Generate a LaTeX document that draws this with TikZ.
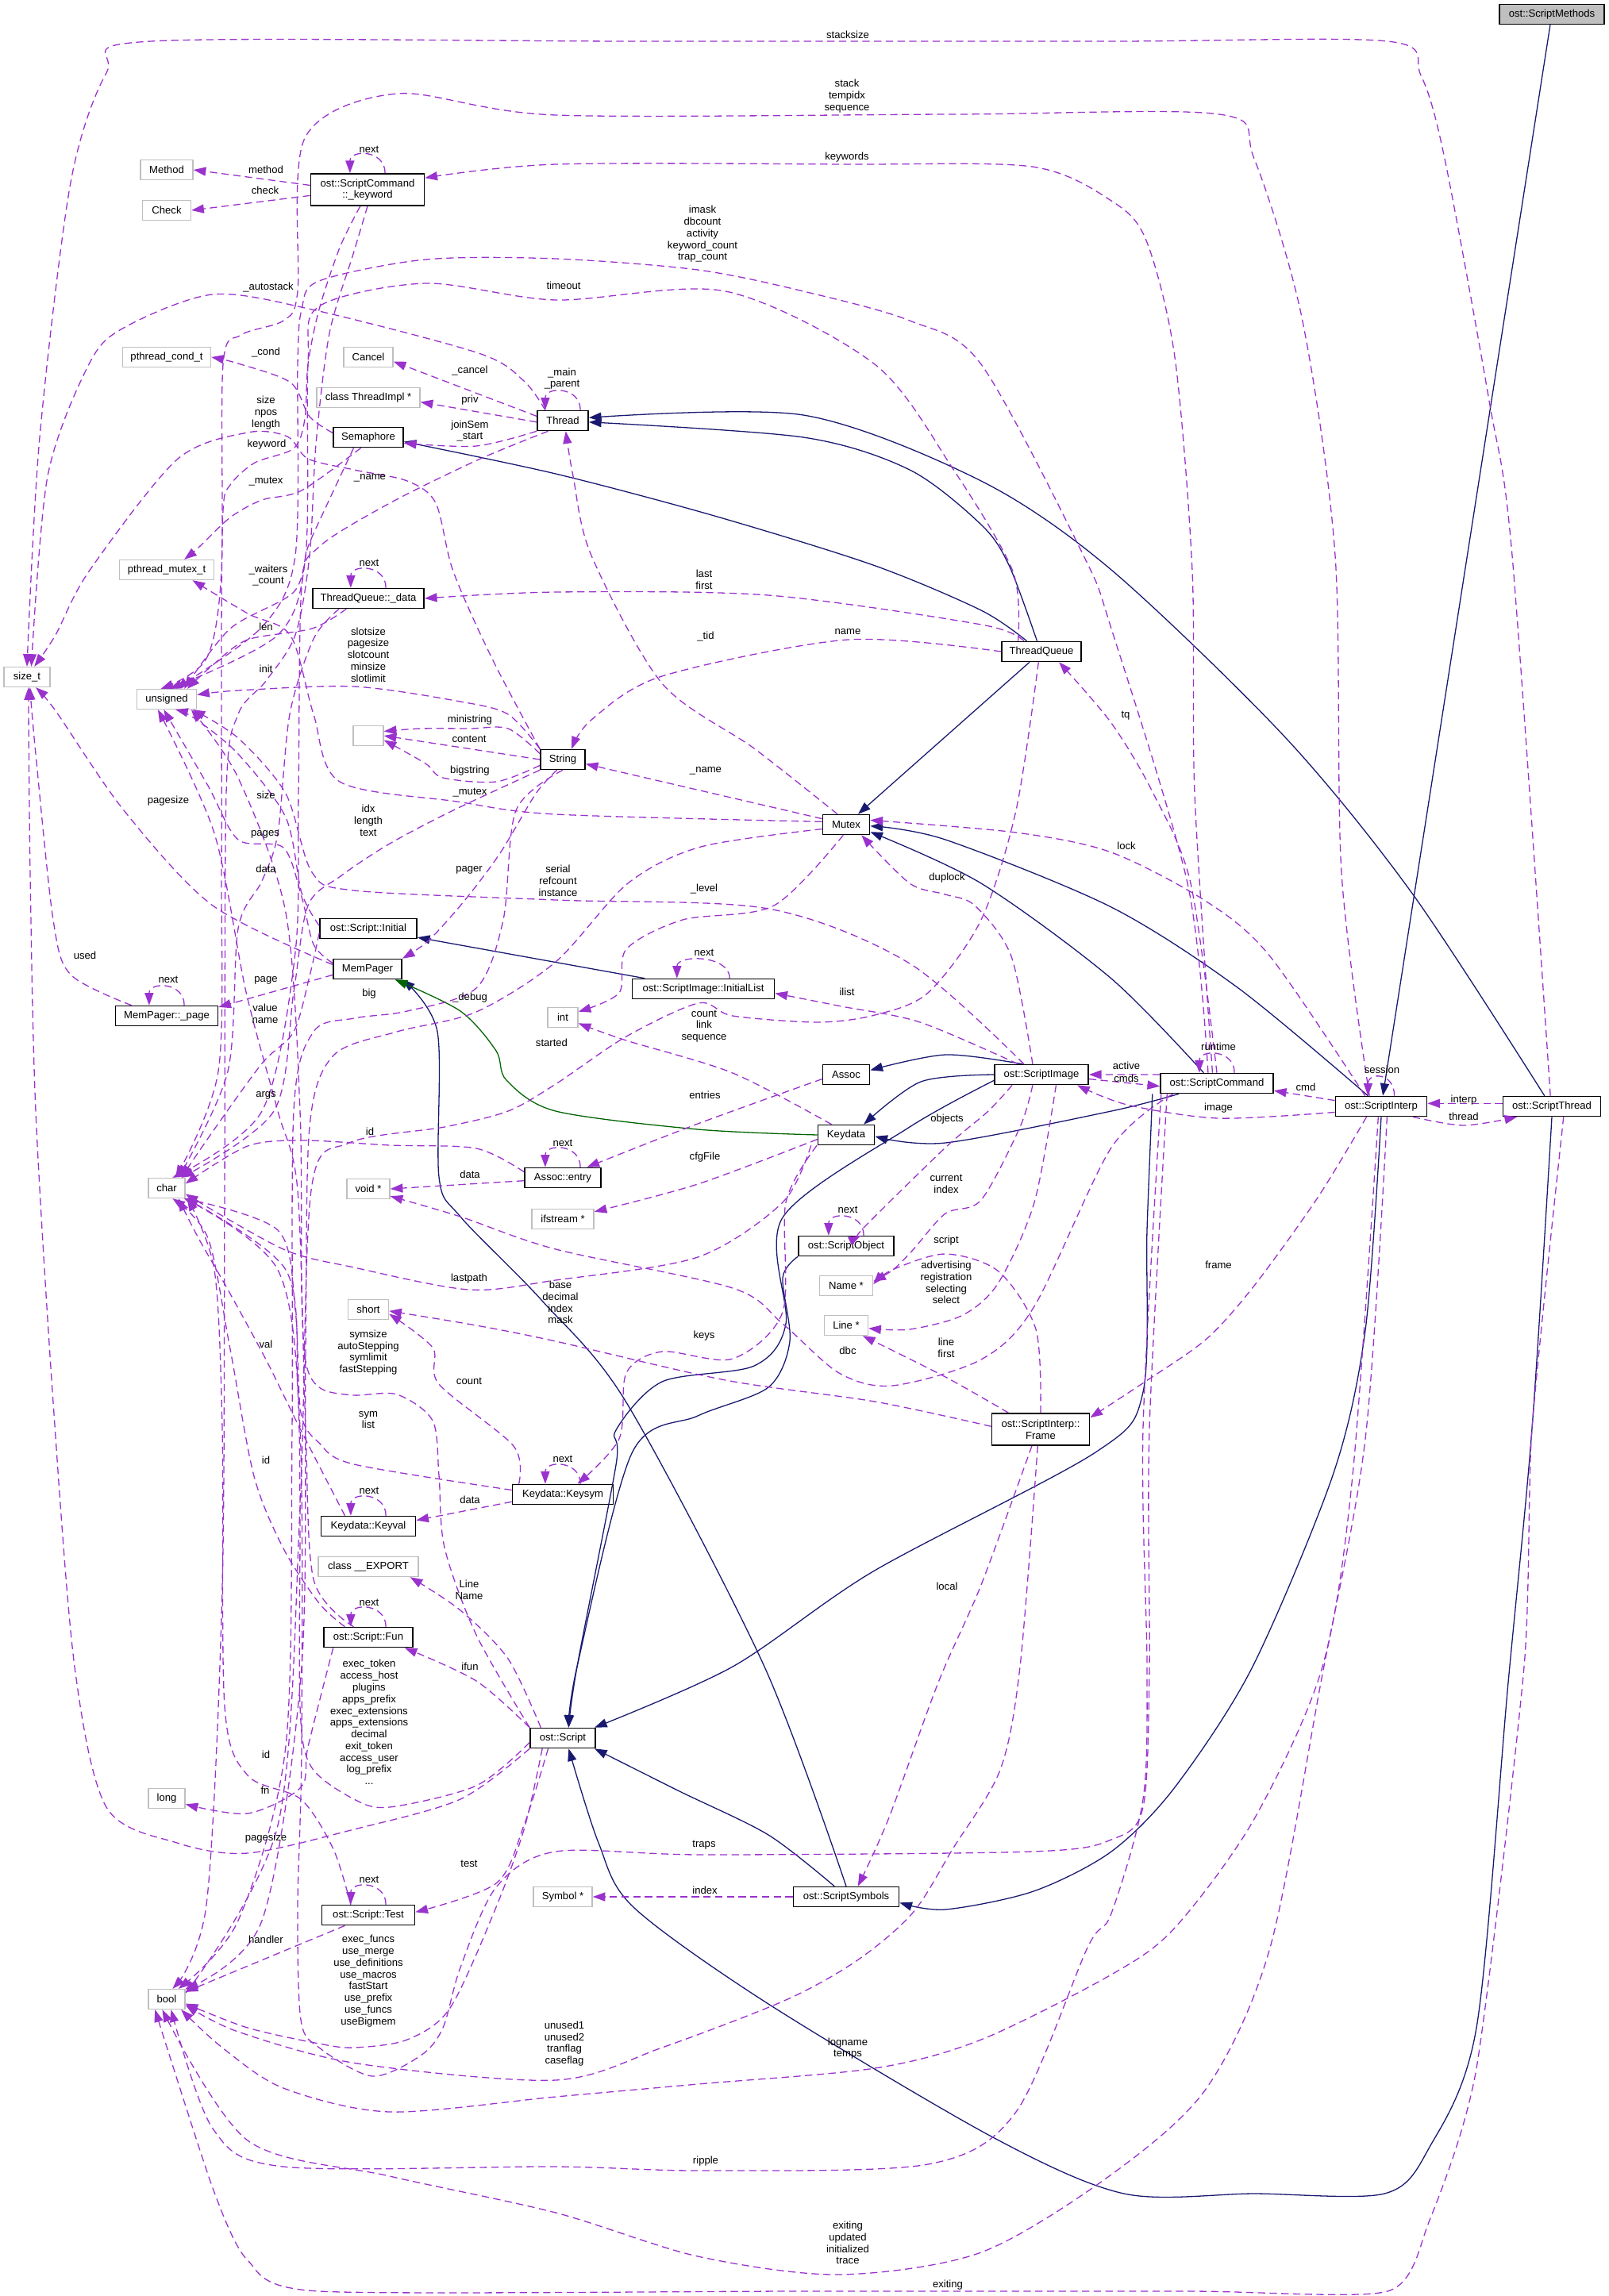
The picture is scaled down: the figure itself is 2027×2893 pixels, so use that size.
\documentclass[tikz,border=0pt]{standalone}
\usepackage{fontspec}
\setmainfont{Liberation Sans}
\usetikzlibrary{arrows.meta}
\definecolor{usecol}{HTML}{9A32CD}
\definecolor{inhcol}{HTML}{191970}
\definecolor{protcol}{HTML}{006400}
\definecolor{boxgray}{HTML}{BFBFBF}
\newcommand\dxfont{\fontsize{7.1}{8}\selectfont}
\newcommand\selfloop[2][12pt]{\draw[uses] ([xshift=#1]#2.north) .. controls +(0,-30) and +(0,-30) .. ([xshift=-#1]#2.north);}
\begin{document}
\begin{tikzpicture}[x=0.542pt,y=-0.542pt,
  cls/.style={draw=black,line width=0.9pt,fill=white,font=\dxfont,inner xsep=2pt,inner ysep=0pt,minimum height=13.5pt,align=center},
  ext/.style={cls,draw=boxgray,line width=0.75pt},
  rootbox/.style={cls,fill=boxgray},
  bw/.style={minimum width=#1*0.542pt},
  uses/.style={draw=usecol,line width=0.7pt,dash pattern=on 5pt off 3pt,-{Triangle[length=8.5pt,width=6pt]}},
  inh/.style={draw=inhcol,line width=0.7pt,-{Triangle[length=8.5pt,width=6pt]}},
  prot/.style={inh,draw=protcol},
  lbl/.style={font=\dxfont,align=center,inner sep=0pt}]
\useasboundingbox (0,0) rectangle (2027,2893);
\node[rootbox,bw=132] (meth) at (1955,18) {ost::ScriptMethods};
\node[ext,bw=66] (Method) at (210,214) {Method};
\node[ext,bw=61] (Check) at (210,265) {Check};
\node[cls,bw=143,minimum height=21.7pt] (kw) at (463,239) {ost::ScriptCommand\\::\_keyword};
\node[ext,bw=111] (pcond) at (210,450) {pthread\_cond\_t};
\node[ext,bw=62] (Cancel) at (464,450) {Cancel};
\node[ext,bw=130] (timpl) at (464,501) {class ThreadImpl *};
\node[cls,bw=88] (Semaphore) at (464,551) {Semaphore};
\node[cls,bw=64] (Thread) at (709,530) {Thread};
\node[ext,bw=119] (pmutex) at (210,718) {pthread\_mutex\_t};
\node[cls,bw=140] (tqdata) at (464,754) {ThreadQueue::\_data};
\node[ext,bw=58] (sizet) at (34,853) {size\_t};
\node[ext,bw=75] (uns) at (210,881) {unsigned};
\node[ext,bw=38] (blank) at (464,927) {};
\node[cls,bw=56] (String) at (709,957) {String};
\node[cls,bw=100] (ThreadQueue) at (1312,821) {ThreadQueue};
\node[cls,bw=59] (Mutex) at (1066,1039) {Mutex};
\node[cls,bw=122] (sinit) at (464,1170) {ost::Script::Initial};
\node[cls,bw=86] (MemPager) at (463,1221) {MemPager};
\node[cls,bw=129] (page) at (210,1280) {MemPager::\_page};
\node[ext,bw=38] (int) at (709,1282) {int};
\node[cls,bw=179] (ilist) at (886,1246) {ost::ScriptImage::InitialList};
\node[cls,bw=59] (Assoc) at (1066,1354) {Assoc};
\node[cls,bw=118] (simg) at (1312,1354) {ost::ScriptImage};
\node[cls,bw=142] (scmd) at (1533,1365) {ost::ScriptCommand};
\node[cls,bw=115] (sint) at (1740,1394) {ost::ScriptInterp};
\node[cls,bw=123] (sthr) at (1955,1394) {ost::ScriptThread};
\node[ext,bw=46] (char) at (210,1497) {char};
\node[cls,bw=96] (entry) at (709,1484) {Assoc::entry};
\node[ext,bw=54] (voidp) at (464,1498) {void *};
\node[cls,bw=71] (Keydata) at (1066,1430) {Keydata};
\node[ext,bw=78] (ifs) at (709,1536) {ifstream *};
\node[cls,bw=120] (sobj) at (1066,1570) {ost::ScriptObject};
\node[ext,bw=67] (namep) at (1066,1620) {Name *};
\node[ext,bw=51] (short) at (464,1650) {short};
\node[ext,bw=55] (linep) at (1066,1670) {Line *};
\node[cls,bw=123,minimum height=21.7pt] (frame) at (1311,1801) {ost::ScriptInterp::\\Frame};
\node[cls,bw=127] (keysym) at (709,1883) {Keydata::Keysym};
\node[cls,bw=119] (keyval) at (464,1923) {Keydata::Keyval};
\node[ext,bw=126] (export) at (464,1974) {class \_\_EXPORT};
\node[cls,bw=112] (fun) at (464,2063) {ost::Script::Fun};
\node[cls,bw=82] (script) at (709,2190) {ost::Script};
\node[ext,bw=46] (long) at (210,2266) {long};
\node[ext,bw=74] (symp) at (709,2390) {Symbol *};
\node[cls,bw=133] (ssym) at (1066,2390) {ost::ScriptSymbols};
\node[cls,bw=117] (test) at (464,2413) {ost::Script::Test};
\node[ext,bw=46] (bool) at (210,2519) {bool};
\draw[inh] (meth) -- (sint);
\draw[inh] plot[smooth] coordinates {([xshift=-9pt]sint.north) (1560,1245) (1400,1143) (1191,1058) ([yshift=-1pt]Mutex.east)};
\draw[inh] plot[smooth] coordinates {([xshift=-9pt]scmd.north) (1400,1233) (1236,1113) ([yshift=-5pt]Mutex.east)};
\draw[inh] plot[smooth] coordinates {([xshift=-5pt]sthr.north) (1780,1127) (1620,930) (1400,718) (1236,606) (1012,523) ([yshift=2pt]Thread.east)};
\draw[inh] plot[smooth] coordinates {([xshift=-3pt]ThreadQueue.north) (1271,712) (1236,661) (1146,592) (1012,551) ([yshift=-1pt]Thread.east)};
\draw[inh] plot[smooth] coordinates {([xshift=-10pt]ThreadQueue.north) (1236,769) (1100,712) (900,650) (700,597) ([yshift=-3pt]Semaphore.east)};
\draw[inh] (ThreadQueue) -- (Mutex);
\draw[inh] (ilist) -- (sinit);
\draw[inh] plot[smooth] coordinates {([xshift=-13pt]simg.north) (1191,1329) ([yshift=3pt]Assoc.east)};
\draw[inh] plot[smooth] coordinates {(simg.west) (1160,1363) ([xshift=12pt]Keydata.north)};
\draw[inh] plot[smooth] coordinates {([xshift=-26pt]scmd.south) (1400,1400) (1191,1440) ([yshift=-1pt]Keydata.east)};
\draw[inh] plot[smooth] coordinates {([yshift=-4pt]simg.west) (1146,1420) (986,1534) (990,1668) (950,1721) (834,1741) (776,1802) (776,1846) (727,2100) ([xshift=4pt]script.north)};
\draw[inh] plot[smooth] coordinates {(sobj.south west) (986,1610) (995,1690) (968,1748) (879,1784) (796,1831) (727,2100) ([xshift=4pt]script.north)};
\draw[inh] plot[smooth] coordinates {([xshift=-44pt]scmd.south) (1445,1550) (1440,1754) (1380,1830) (1100,1980) (923,2100) ([xshift=-1pt]script.north east)};
\draw[inh] plot[smooth] coordinates {([xshift=-8pt]ssym.north) (968,2312) (856,2257) ([xshift=-1pt]script.south east)};
\draw[inh] plot[smooth] coordinates {(sthr.south) (1930,1800) (1900,2120) (1860,2555) (1800,2707) (1744,2764) (1580,2764) (1416,2764) (1249,2692) (968,2525) (798,2403) (754,2322) ([xshift=4pt]script.south)};
\draw[inh] plot[smooth] coordinates {(sint.south) (1720,1676) (1680,1856) (1578,2100) (1480,2252) (1400,2333) (1302,2383) (1191,2406) ([yshift=-4pt]ssym.east)};
\draw[inh] plot[smooth] coordinates {(ssym.north) (963,2100) (789,1767) (683,1639) (580,1533) (553,1483) (551,1300) (MemPager.south east)};
\draw[prot] plot[smooth] coordinates {(Keydata.west) (879,1423) (700,1400) (638,1361) (625,1324) (580,1274) ([xshift=-5pt]MemPager.south east)};
\draw[uses] ([yshift=3pt]kw.west) -- (Method.east);
\draw[uses] ([yshift=-4pt]kw.west) -- (Check.east);
\selfloop{kw}
\draw[uses] plot[smooth] coordinates {([xshift=-1pt]sthr.north) (1905,700) (1876,505) (1820,200) (1790,95) (1748,52) (1400,52) (800,52) (190,52) (134,92) (89,230) (50,551) (sizet.north)};
\draw[uses] plot[smooth] coordinates {([xshift=-8pt]sint.north) (1690,1100) (1682,700) (1640,400) (1580,200) (1536,144) (1200,144) (700,145) (500,118) (384,174) (375,367) (357,404) (304,422) (281,459) (279,720) (260,830) ([xshift=-4pt]uns.north)};
\draw[uses] plot[smooth] coordinates {([xshift=-3pt]scmd.north) (1505,1000) (1502,720) (1480,450) (1444,303) (1400,253) (1300,210) (1067,207) (700,207) ([yshift=8pt]kw.east)};
\draw[uses] plot[smooth] coordinates {([xshift=-6pt]scmd.north) (1496,1113) (1400,792) (1365,700) (1236,459) (1146,404) (1012,367) (879,340) (700,326) (536,327) (402,354) (380,390) (375,459) (372,700) (330,790) ([xshift=6pt]uns.north)};
\draw[uses] plot[smooth] coordinates {([xshift=-16pt]ThreadQueue.north) (1276,720) (1200,590) (1102,459) (914,367) (700,378) (536,357) (402,386) (388,459) (385,700) (350,800) ([xshift=2pt]uns.north)};
\draw[uses] plot[smooth] coordinates {([xshift=-12pt]Thread.north) (660,480) (603,445) (393,390) (268,371) (156,413) (112,459) (60,600) ([xshift=3pt]sizet.north)};
\selfloop{Thread}
\draw[uses] ([yshift=3pt]Thread.west) -- ([yshift=-3pt]Cancel.east);
\draw[uses] ([yshift=-1pt]Thread.west) -- ([yshift=-3pt]timpl.east);
\draw[uses] plot[smooth] coordinates {(Thread.south west) (600,562) ([yshift=-4pt]Semaphore.east)};
\draw[uses] plot[smooth] coordinates {([xshift=-10pt]Thread.south) (603,579) (491,634) (402,689) (380,740) (376,1000) (372,1200) (330,1400) ([xshift=4pt]char.north)};
\draw[uses] plot[smooth] coordinates {(String.north west) (620,830) (571,720) (549,634) (513,606) (446,592) (388,578) (362,550) (312,545) (223,579) (112,720) (70,800) ([xshift=5pt]sizet.north)};
\draw[uses] plot[smooth] coordinates {([xshift=-5pt]kw.south) (428,312) (402,390) (388,459) (384,528) (370,565) (321,583) (290,611) (281,643) (279,800) (279,1100) (275,1350) ([xshift=6pt]char.north)};
\draw[uses] plot[smooth] coordinates {([yshift=3pt]Semaphore.west) (390,525) (366,482) (300,458) (pcond.east)};
\draw[uses] plot[smooth] coordinates {([xshift=-5pt]Semaphore.south) (380,618) (330,630) (290,652) (250,690) ([xshift=12pt]pmutex.north)};
\draw[uses] plot[smooth] coordinates {([xshift=-10pt]Semaphore.south) (410,640) (388,689) (370,746) (290,792) ([xshift=12pt]uns.north)};
\selfloop{tqdata}
\draw[uses] plot[smooth] coordinates {([xshift=-12pt]ThreadQueue.north) (1236,787) (968,750) (700,746) (tqdata.east)};
\draw[uses] plot[smooth] coordinates {([xshift=-15pt]tqdata.south) (393,792) (312,806) (268,838) ([xshift=14pt]uns.north)};
\draw[uses] plot[smooth] coordinates {(kw.south) (445,320) (415,420) (398,560) (390,700) (372,800) (335,858) (300,900) (285,1000) (283,1500) (280,2000) (260,2400) ([xshift=4pt]bool.north)};
\draw[uses] plot[smooth] coordinates {(String.north west) (640,900) (580,884) (446,865) (300,870) ([yshift=3pt]uns.east)};
\draw[uses] plot[smooth] coordinates {([xshift=-6pt]Mutex.north) (950,943) (834,861) (745,700) (722,600) ([xshift=2pt]Thread.south)};
\draw[uses] plot[smooth] coordinates {(ThreadQueue.west) (1068,806) (834,852) (745,907) ([xshift=6pt]String.north)};
\draw[uses] plot[smooth] coordinates {([yshift=4pt]String.west) (640,918) (592,918) (530,918) ([yshift=3pt]blank.east)};
\draw[uses] (String.west) -- (blank.east);
\draw[uses] plot[smooth] coordinates {([yshift=-4pt]String.west) (625,985) (558,980) (536,962) ([yshift=-3pt]blank.east)};
\draw[uses] plot[smooth] coordinates {([yshift=2pt]Mutex.west) (700,1026) (576,1010) (428,985) (395,900) (366,801) (312,773) ([xshift=-15pt]pmutex.south east)};
\draw[uses] ([yshift=4pt]Mutex.west) -- ([yshift=-3pt]String.east);
\draw[uses] plot[smooth] coordinates {([yshift=3pt]MemPager.west) (268,1141) (156,1021) (71,897) ([xshift=6pt]sizet.south)};
\draw[uses] plot[smooth] coordinates {([yshift=2pt]sinit.west) (380,1125) (360,1030) (300,950) (245,905) ([xshift=6pt]uns.south)};
\draw[uses] plot[smooth] coordinates {(String.south west) (571,1021) (491,1063) (429,1104) (388,1141) (370,1250) (345,1400) ([xshift=10pt]char.north)};
\draw[uses] plot[smooth] coordinates {([yshift=4pt]MemPager.west) (395,1190) (380,1130) (357,1068) (300,1058) (262,990) ([xshift=-2pt]uns.south)};
\draw[uses] plot[smooth] coordinates {([xshift=-20pt]tqdata.south) (395,805) (365,900) (350,1050) (330,1110) (300,1170) (287,1350) ([xshift=8pt]char.north)};
\draw[uses] plot[smooth] coordinates {([xshift=-4pt]String.south) (675,1000) (630,1075) (585,1135) (540,1185) (MemPager.north east)};
\draw[uses] plot[smooth] coordinates {([xshift=-12pt]simg.north) (1146,1214) (968,1145) (700,1134) (446,1122) (393,1099) (360,1000) (300,930) ([xshift=-3pt]uns.south east)};
\draw[uses] plot[smooth] coordinates {(scmd.north) (1500,1113) (1452,998) (1400,911) ([xshift=12pt]ThreadQueue.south)};
\draw[uses] plot[smooth] coordinates {([xshift=-11pt]sint.north) (1600,1205) (1520,1136) (1400,1074) (1280,1049) ([yshift=3pt]Mutex.east)};
\draw[uses] plot[smooth] coordinates {([xshift=-6pt]simg.north) (1274,1205) (1228,1141) (1191,1127) (1146,1113) ([xshift=-6pt]Mutex.south east)};
\draw[uses] plot[smooth] coordinates {([xshift=-2pt]Mutex.south) (975,1141) (860,1159) (789,1196) (780,1251) ([yshift=4pt]int.east)};
\draw[uses] plot[smooth] coordinates {([yshift=-3pt]Mutex.west) (883,1067) (791,1113) (700,1212) (600,1275) (500,1300) (420,1330) (390,1420) (385,1700) (380,2100) (330,2420) (bool.north east)};
\draw[uses] plot[smooth] coordinates {([xshift=-24pt]page.north) (89,1228) (67,1159) (45,950) ([xshift=2pt]sizet.south)};
\selfloop{page}
\draw[uses] ([yshift=-4pt]MemPager.west) -- ([yshift=6pt]page.east);
\draw[uses] plot[smooth] coordinates {(String.south) (650,1021) (634,1159) (600,1245) (513,1274) (446,1283) (395,1300) (370,1400) (368,1800) (360,2200) (300,2420) ([xshift=8pt]bool.north)};
\draw[uses] plot[smooth] coordinates {([yshift=-3pt]sinit.west) (390,1230) (370,1300) (330,1340) (265,1430) ([xshift=10pt]char.north)};
\selfloop[18pt]{ilist}
\draw[uses] plot[smooth] coordinates {([xshift=-16pt]simg.north) (1159,1288) (1060,1268) ([yshift=-3pt]ilist.east)};
\draw[uses] plot[smooth] coordinates {([xshift=-10pt]Keydata.north) (923,1352) (789,1311) ([yshift=-4pt]int.east)};
\draw[uses] plot[smooth] coordinates {([xshift=-2pt]ThreadQueue.south) (1280,1021) (1236,1159) (1169,1251) (1102,1279) (1030,1288) (923,1280) (880,1264) (789,1306) (700,1366) (640,1400) (560,1420) (440,1440) (392,1500) (378,1900) (350,2300) ([yshift=4pt]bool.east)};
\selfloop{scmd}
\draw[uses] ([yshift=6pt]scmd.west) -- (simg.east);
\draw[uses] ([yshift=-3pt]simg.east) -- ([yshift=-2pt]scmd.west);
\draw[uses] ([yshift=4pt]sint.west) -- ([yshift=-5pt]scmd.east);
\draw[uses] plot[smooth] coordinates {([yshift=-4pt]sint.west) (1535,1409) (1420,1392) ([xshift=-8pt]simg.south east)};
\selfloop[9pt]{sint}
\draw[uses] ([yshift=2pt]sthr.west) -- ([yshift=2pt]sint.east);
\draw[uses] plot[smooth] coordinates {([xshift=-10pt]sint.south east) (1844,1418) ([xshift=10pt]sthr.south west)};
\draw[uses] plot[smooth] coordinates {([xshift=-10pt]fun.north) (395,1990) (385,1800) (375,1500) (350,1400) (310,1250) (270,1050) ([xshift=-6pt]uns.south)};
\draw[uses] plot[smooth] coordinates {([xshift=-16pt]fun.north) (402,2020) (357,1951) (320,1860) (290,1700) (262,1560) ([xshift=4pt]char.south)};
\draw[uses] plot[smooth] coordinates {([xshift=-24pt]fun.south) (388,2201) (379,2252) (312,2285) ([yshift=-4pt]long.east)};
\selfloop{fun}
\draw[uses] plot[smooth] coordinates {([xshift=-16pt]keyval.north) (379,1802) (335,1713) (286,1623) (250,1560) ([xshift=8pt]char.south)};
\selfloop{keyval}
\draw[uses] ([yshift=-5pt]keysym.west) -- ([yshift=4pt]keyval.east);
\draw[uses] plot[smooth] coordinates {([xshift=-30pt]keysym.north) (647,1822) (553,1744) (545,1698) ([yshift=-3pt]short.east)};
\draw[uses] plot[smooth] coordinates {([yshift=3pt]keysym.west) (446,1845) (402,1818) (379,1780) (372,1650) (350,1550) ([xshift=12pt]char.south)};
\selfloop{keysym}
\draw[uses] plot[smooth] coordinates {([xshift=-20pt]Keydata.south) (990,1515) (986,1653) (923,1712) (834,1703) (789,1730) (780,1813) ([xshift=10pt]keysym.north)};
\draw[uses] plot[smooth] coordinates {([yshift=-3pt]Keydata.west) (879,1492) ([yshift=5pt]ifs.east)};
\draw[uses] plot[smooth] coordinates {([xshift=-24pt]Keydata.south) (986,1515) (879,1584) (700,1613) (591,1625) (446,1597) (357,1574) ([yshift=-4pt]char.east)};
\draw[uses] plot[smooth] coordinates {([yshift=-3pt]Assoc.west) (879,1416) ([xshift=-10pt]entry.north east)};
\selfloop{entry}
\draw[uses] ([yshift=-2pt]entry.west) -- (voidp.east);
\draw[uses] plot[smooth] coordinates {([yshift=4pt]entry.west) (600,1447) (491,1443) (384,1437) (312,1444) ([yshift=3pt]char.east)};
\draw[uses] plot[smooth] coordinates {([xshift=-30pt]scmd.south) (1400,1446) (1303,1646) (1236,1713) (1124,1746) (1057,1730) (986,1668) (923,1623) (700,1574) (580,1533) ([yshift=-5pt]voidp.east)};
\draw[uses] plot[smooth] coordinates {([xshift=-20pt]simg.south) (1245,1400) (1191,1446) (1088,1547) ([xshift=10pt]sobj.north)};
\selfloop{sobj}
\draw[uses] plot[smooth] coordinates {([xshift=-6pt]simg.south) (1285,1420) (1236,1512) (1191,1529) (1150,1575) (1125,1600) ([yshift=3pt]namep.east)};
\draw[uses] plot[smooth] coordinates {(frame.north) (1305,1675) (1258,1602) (1191,1580) (1124,1600) ([yshift=1pt]namep.east)};
\draw[uses] plot[smooth] coordinates {([xshift=10pt]simg.south) (1303,1515) (1258,1616) (1213,1657) (1146,1675) ([yshift=-2pt]linep.east)};
\draw[uses] plot[smooth] coordinates {([xshift=-22pt]frame.north) (1191,1735) ([xshift=-4pt]linep.south east)};
\draw[uses] plot[smooth] coordinates {([yshift=2pt]frame.west) (1102,1766) (914,1739) (700,1690) (600,1670) ([yshift=-1pt]short.east)};
\draw[uses] plot[smooth] coordinates {([xshift=-6pt]frame.south) (1236,1997) (1182,2120) (1120,2290) ([xshift=8pt]ssym.north)};
\draw[uses] plot[smooth] coordinates {([xshift=-10pt]sint.south) (1660,1509) (1580,1620) (1520,1687) (1444,1740) ([yshift=8pt]frame.east)};
\draw[uses] plot[smooth] coordinates {([xshift=-2pt]frame.south) (1285,2100) (1260,2230) (1200,2330) (1150,2410) (1080,2470) (990,2520) (834,2580) (700,2621) (450,2600) (300,2560) ([yshift=-4pt]bool.east)};
\draw[uses] plot[smooth] coordinates {([xshift=-15pt]script.north) (640,2090) (580,2029) ([xshift=-6pt]export.south east)};
\draw[uses] plot[smooth] coordinates {(script.north west) (600,2118) ([xshift=-6pt]fun.south east)};
\draw[uses] plot[smooth] coordinates {([xshift=-10pt]script.south) (660,2300) (625,2373) ([yshift=2pt]test.east)};
\selfloop{test}
\draw[uses] plot[smooth] coordinates {([xshift=-12pt]test.north) (420,2330) (379,2267) (312,2237) (283,2150) (280,1800) (270,1600) ([xshift=14pt]char.south)};
\draw[uses] ([xshift=-16pt]test.south) -- ([yshift=5pt]bool.east);
\draw[uses] plot[smooth] coordinates {(script.south west) (580,2267) (446,2305) (312,2335) (223,2322) (134,2277) (94,2100) (67,1767) (45,1400) (38,1100) ([xshift=1pt]sizet.south)};
\draw[uses] plot[smooth] coordinates {([yshift=-3pt]script.west) (600,2250) (491,2277) (446,2267) (392,2226) (378,2150) (378,1900) (375,1750) (360,1600) (char.south east)};
\draw[uses] plot[smooth] coordinates {([xshift=-14pt]script.south) (661,2302) (625,2403) (567,2530) (513,2570) (446,2580) (402,2575) (312,2555) ([yshift=-3pt]bool.east)};
\draw[uses] plot[smooth] coordinates {(script.north west) (600,2060) (560,1950) (553,1859) (545,1790) (500,1757) (446,1758) (405,1750) (386,1720) (380,1630) (378,1400) (360,1150) (300,980) ([xshift=-4pt]uns.south east)};
\draw[uses] plot[smooth] coordinates {([xshift=-34pt]scmd.south) (1448,1800) (1448,2100) (1440,2277) (1400,2318) (1300,2333) (887,2337) (700,2333) (625,2378) (580,2479) (558,2555) (530,2590) (469,2616) (402,2580) (379,2545) (375,2403) (380,2200) (378,1800) (350,1600) ([xshift=12pt]char.south)};
\draw[uses] plot[smooth] coordinates {([xshift=-38pt]scmd.south) (1440,1800) (1445,2100) (1440,2267) (1400,2411) (1370,2454) (1280,2661) (1169,2727) (889,2735) (700,2730) (357,2730) (268,2682) ([xshift=3pt]bool.south)};
\draw[uses] plot[smooth] coordinates {([xshift=-2pt]sint.south) (1704,1859) (1666,2100) (1580,2292) (1480,2429) (1400,2488) (1236,2570) (1102,2606) (879,2626) (700,2642) (491,2661) (357,2631) (280,2580) ([xshift=-3pt]bool.south east)};
\draw[uses] plot[smooth] coordinates {([xshift=4pt]sint.south) (1720,1813) (1664,2120) (1600,2454) (1520,2631) (1400,2740) (1236,2838) (1057,2866) (879,2843) (700,2788) (491,2742) (312,2697) ([xshift=-3pt]bool.south)};
\draw[uses] plot[smooth,tension=0.4] coordinates {([xshift=8pt]sthr.south) (1930,1800) (1920,2100) (1860,2606) (1800,2800) (1748,2887) (1500,2887) (1000,2887) (402,2887) (312,2848) (268,2757) ([xshift=-8pt]bool.south)};
\draw[uses] (ssym.west) -- (symp.east);
\node[lbl] (tStacksize) at (1068,44) {stacksize};
\node[lbl] (tStack) at (1067,121) {stack\\tempidx\\sequence};
\node[lbl] (tKeywords) at (1067,198) {keywords};
\node[lbl] (tImask) at (885,295) {imask\\dbcount\\activity\\keyword\_count\\trap\_count};
\node[lbl] (tTimeout) at (710,360) {timeout};
\node[lbl] (tAutostack) at (338,362) {\_autostack};
\node[lbl] (tKwNext) at (465,188) {next};
\node[lbl] (tMethod) at (335,214) {method};
\node[lbl] (tCheck) at (334,240) {check};
\node[lbl] (tCond) at (335,444) {\_cond};
\node[lbl] (tCancel) at (592,467) {\_cancel};
\node[lbl] (tPriv) at (592,504) {priv};
\node[lbl] (tJoin) at (592,543) {joinSem\\\_start};
\node[lbl] (tMain) at (708,477) {\_main\\\_parent};
\node[lbl] (tNpos) at (335,520) {size\\npos\\length};
\node[lbl] (tKeyword) at (336,560) {keyword};
\node[lbl] (tSemMutex) at (335,607) {\_mutex};
\node[lbl] (tThrName) at (466,602) {\_name};
\node[lbl] (tWaiters) at (338,725) {\_waiters\\\_count};
\node[lbl] (tDataNext) at (465,709) {next};
\node[lbl] (tLast) at (887,730) {last\\first};
\node[lbl] (tLen) at (335,790) {len};
\node[lbl] (tInit) at (335,843) {init};
\node[lbl] (tSlot) at (464,825) {slotsize\\pagesize\\slotcount\\minsize\\slotlimit};
\node[lbl] (tTid) at (889,802) {\_tid};
\node[lbl] (tQName) at (1068,796) {name};
\node[lbl] (tMini) at (592,907) {ministring};
\node[lbl] (tContent) at (591,931) {content};
\node[lbl] (tBigstr) at (592,971) {bigstring};
\node[lbl] (tMtxMutex) at (592,999) {\_mutex};
\node[lbl] (tMtxName) at (889,971) {\_name};
\node[lbl] (tPagesize) at (212,1009) {pagesize};
\node[lbl] (tSize) at (335,1002) {size};
\node[lbl] (tIdx) at (464,1034) {idx\\length\\text};
\node[lbl] (tPages) at (334,1051) {pages};
\node[lbl] (tData) at (335,1095) {data};
\node[lbl] (tPager) at (591,1096) {pager};
\node[lbl] (tSerial) at (703,1110) {serial\\refcount\\instance};
\node[lbl] (tTq) at (1418,902) {tq};
\node[lbl] (tLock) at (1419,1066) {lock};
\node[lbl] (tDuplock) at (1193,1106) {duplock};
\node[lbl] (tLevel) at (887,1120) {\_level};
\node[lbl] (tUsed) at (107,1204) {used};
\node[lbl] (tPageNext) at (212,1234) {next};
\node[lbl] (tPage) at (335,1235) {page};
\node[lbl] (tBig) at (465,1252) {big};
\node[lbl] (tDebug) at (592,1257) {\_debug};
\node[lbl] (tValue) at (334,1277) {value\\name};
\node[lbl] (tIlistNext) at (887,1200) {next};
\node[lbl] (tIlist) at (1067,1250) {ilist};
\node[lbl] (tCount) at (887,1293) {count\\link\\sequence};
\node[lbl] (tStarted) at (695,1314) {started};
\node[lbl] (tRuntime) at (1535,1319) {runtime};
\node[lbl] (tActive) at (1419,1343) {active};
\node[lbl] (tCmds) at (1419,1359) {cmds};
\node[lbl] (tCmd) at (1645,1370) {cmd};
\node[lbl] (tSession) at (1741,1348) {session};
\node[lbl] (tImage) at (1535,1396) {image};
\node[lbl] (tInterp) at (1844,1386) {interp};
\node[lbl] (tThread) at (1844,1407) {thread};
\node[lbl] (tArgs) at (335,1380) {args};
\node[lbl] (tEntries) at (888,1380) {entries};
\node[lbl] (tObjects) at (1193,1410) {objects};
\node[lbl] (tEntryId) at (466,1426) {id};
\node[lbl] (tEntryNext) at (709,1440) {next};
\node[lbl] (tEntryData) at (592,1480) {data};
\node[lbl] (tCfg) at (888,1458) {cfgFile};
\node[lbl] (tCurrent) at (1192,1492) {current\\index};
\node[lbl] (tObjNext) at (1068,1524) {next};
\node[lbl] (tScript) at (1192,1563) {script};
\node[lbl] (tAdv) at (1192,1616) {advertising\\registration\\selecting\\select};
\node[lbl] (tLastpath) at (591,1611) {lastpath};
\node[lbl] (tBase) at (706,1641) {base\\decimal\\index\\mask};
\node[lbl] (tKeys) at (887,1683) {keys};
\node[lbl] (tDbc) at (1068,1702) {dbc};
\node[lbl] (tLine) at (1192,1698) {line\\first};
\node[lbl] (tFrame) at (1535,1594) {frame};
\node[lbl] (tSymsize) at (464,1704) {symsize\\autoStepping\\symlimit\\fastStepping};
\node[lbl] (tVal) at (335,1694) {val};
\node[lbl] (tSymCount) at (591,1740) {count};
\node[lbl] (tSym) at (464,1789) {sym\\list};
\node[lbl] (tFunId) at (335,1840) {id};
\node[lbl] (tSymNext) at (709,1838) {next};
\node[lbl] (tValNext) at (465,1878) {next};
\node[lbl] (tSymData) at (592,1890) {data};
\node[lbl] (tLineName) at (591,2003) {Line\\Name};
\node[lbl] (tLocal) at (1193,1999) {local};
\node[lbl] (tFunNext) at (465,2019) {next};
\node[lbl] (tIfun) at (592,2100) {ifun};
\node[lbl] (tExec) at (465,2170) {exec\_token\\access\_host\\plugins\\apps\_prefix\\exec\_extensions\\apps\_extensions\\decimal\\exit\_token\\access\_user\\log\_prefix\\...};
\node[lbl] (tTestId) at (335,2211) {id};
\node[lbl] (tFn) at (334,2256) {fn};
\node[lbl] (tPagesize2) at (335,2316) {pagesize};
\node[lbl] (tTest) at (591,2348) {test};
\node[lbl] (tTestNext) at (465,2368) {next};
\node[lbl] (tTraps) at (887,2325) {traps};
\node[lbl] (tIndex) at (888,2382) {index};
\node[lbl] (tHandler) at (335,2444) {handler};
\node[lbl] (tFuncs) at (464,2496) {exec\_funcs\\use\_merge\\use\_definitions\\use\_macros\\fastStart\\use\_prefix\\use\_funcs\\useBigmem};
\node[lbl] (tUnused) at (711,2575) {unused1\\unused2\\tranflag\\caseflag};
\node[lbl] (tLogname) at (1068,2581) {logname\\temps};
\node[lbl] (tRipple) at (889,2723) {ripple};
\node[lbl] (tExiting) at (1068,2826) {exiting\\updated\\initialized\\trace};
\node[lbl] (tExit) at (1194,2879) {exiting};
\end{tikzpicture}
\end{document}
